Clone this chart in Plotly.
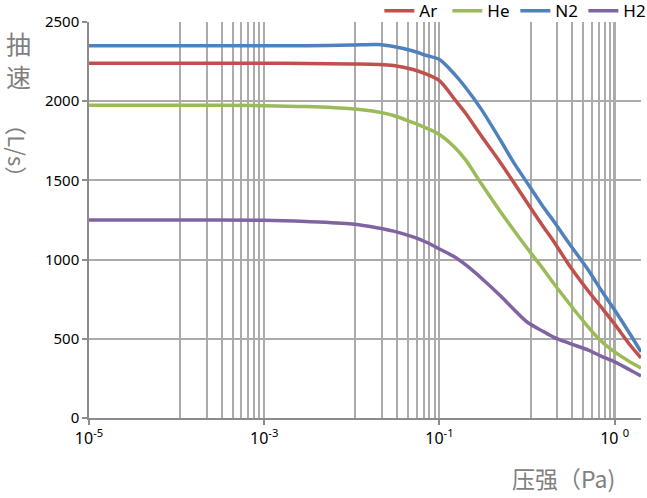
import plotly.graph_objects as go

# ---- data ----
pressure = [1e-5, 1e-4, 1e-3, 3e-3, 1e-2, 2e-2, 3e-2, 5e-2, 7e-2, 0.1, 0.15, 0.2,
            0.3, 0.5, 0.7, 1, 1.5, 2, 3, 5, 7, 10, 15, 20]
ar = [2240, 2240, 2240, 2238, 2235, 2232, 2225, 2200, 2172, 2130, 2010, 1922,
      1782, 1610, 1490, 1360, 1215, 1118, 968, 802, 701, 593, 461, 379]
he = [1975, 1975, 1972, 1966, 1952, 1932, 1910, 1865, 1832, 1790, 1708, 1628,
      1480, 1300, 1188, 1073, 947, 852, 726, 574, 486, 417, 354, 316]
n2 = [2350, 2350, 2350, 2350, 2355, 2358, 2345, 2317, 2290, 2263, 2168, 2085,
      1950, 1752, 1615, 1486, 1340, 1245, 1105, 934, 808, 682, 530, 417]
h2 = [1250, 1250, 1248, 1240, 1225, 1200, 1180, 1143, 1111, 1067, 1016, 966,
      884, 770, 688, 606, 549, 511, 473, 429, 391, 354, 303, 265]

series_names = ["Ar", "He", "N2", "H2"]
series_colors = ["#C0504D", "#9BBB59", "#4F81BD", "#8064A2"]

x_tickvals = [1e-5, 1e-3, 1e-1, 1e1]
x_ticktext = ["10<sup>-5</sup>", "10<sup>-3</sup>", "10<sup>-1</sup>", "10 <sup>0</sup>"]
y_tickvals = [0, 500, 1000, 1500, 2000, 2500]

# minor gridlines (log base-100 axis pattern: 11, 22, ..., 99 x major)
minor_vals = [b * m for b in x_tickvals[:-1] for m in range(11, 100, 11)]

GRID = "#ABABAB"
AXIS = "#8C8C8C"
TITLE_C = "#7F7F7F"
FONT = "Noto Sans, Noto Sans CJK SC, sans-serif"

fig = go.Figure()
for name, vals, col in zip(series_names, [ar, he, n2, h2], series_colors):
    fig.add_trace(go.Scatter(
        x=pressure, y=vals, name=name, mode="lines",
        line=dict(color=col, width=3.5, shape="spline", smoothing=0.8),
    ))

fig.update_layout(
    width=647, height=498,
    margin=dict(l=89, r=6, t=22, b=80, autoexpand=False),
    paper_bgcolor="white", plot_bgcolor="white",
    font=dict(family=FONT, size=15, color="black"),
    showlegend=True,
    legend=dict(orientation="h", x=0.526, xanchor="left", y=1.027, yanchor="middle",
                font=dict(size=17, color="black"), itemwidth=30,
                entrywidth=23, entrywidthmode="pixels",
                bgcolor="rgba(0,0,0,0)", traceorder="normal"),
    xaxis=dict(
        type="log", range=[-5, 1.30103],
        tickvals=x_tickvals, ticktext=x_ticktext,
        ticks="outside", ticklen=5, tickcolor=AXIS, tickwidth=1.5,
        showline=True, linecolor=AXIS, linewidth=1.5,
        showgrid=True, gridcolor=GRID, gridwidth=1.5,
        minor=dict(tickvals=minor_vals, showgrid=True, gridcolor=GRID,
                   gridwidth=1.5, ticks=""),
        tickfont=dict(size=16, color="black"),
        zeroline=False,
    ),
    yaxis=dict(
        range=[0, 2500], tickvals=y_tickvals,
        ticks="outside", ticklen=5, tickcolor=AXIS, tickwidth=1.5,
        showline=True, linecolor=AXIS, linewidth=1.5,
        showgrid=True, gridcolor=GRID, gridwidth=1.5,
        tickfont=dict(size=15, color="black"),
        zeroline=False,
    ),
)

fig.add_annotation(text="抽<br>速", xref="paper", yref="paper",
                   x=-0.128, y=0.905, xanchor="center", yanchor="middle",
                   showarrow=False,
                   font=dict(family="Noto Sans CJK SC", size=25, color=TITLE_C))
fig.add_annotation(text="（L/s）", xref="paper", yref="paper",
                   x=-0.128, y=0.675, xanchor="center", yanchor="middle",
                   textangle=90, showarrow=False,
                   font=dict(family="Noto Sans CJK SC", size=22, color=TITLE_C))
fig.add_annotation(text="压强（Pa)", xref="paper", yref="paper",
                   x=0.86, y=-0.152, xanchor="center", yanchor="middle",
                   showarrow=False,
                   font=dict(family="Noto Sans CJK SC", size=23, color=TITLE_C))

fig.write_html("out.html")
